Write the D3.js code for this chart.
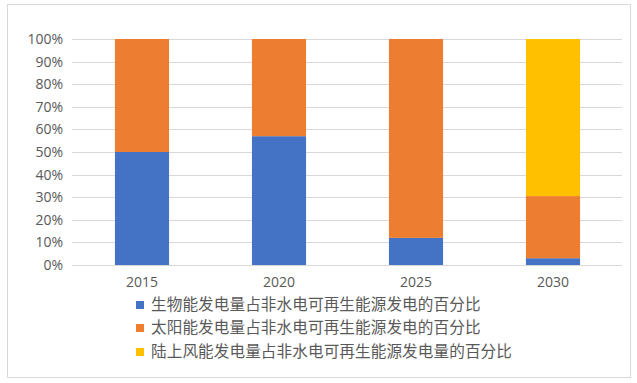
<!DOCTYPE html>
<html><head><meta charset="utf-8">
<script src="https://cdn.jsdelivr.net/npm/d3@7"></script>
<style>
body{margin:0;background:#fff;}
text{font-family:"Noto Sans CJK SC","Open Sans",sans-serif;fill:#595959;}
</style></head>
<body><svg id="c" width="637" height="383"></svg>
<script>
const categories = ["2015","2020","2025","2030"];
const biomass = [50, 57, 12, 3];
const solar = [50, 43, 88, 27.5];
const wind = [0, 0, 0, 69.5];
const seriesNames = ["生物能发电量占非水电可再生能源发电的百分比","太阳能发电量占非水电可再生能源发电的百分比","陆上风能发电量占非水电可再生能源发电量的百分比"];
const colors = ["#4472C4","#ED7D31","#FFC000"];
const yTicks = [0,10,20,30,40,50,60,70,80,90,100];

const svg = d3.select("#c");
svg.append("rect").attr("x",7.5).attr("y",4.5).attr("width",623).attr("height",373)
  .attr("fill","#fff").attr("stroke","#d9d9d9");

const x = d3.scaleBand().domain(categories).range([73.5,621.5]).paddingInner(0.605).paddingOuter(0.3025);
const y = d3.scaleLinear().domain([0,100]).range([265,39]);

const g = svg.append("g");
g.selectAll("line.grid").data(yTicks).join("line")
  .attr("x1",72).attr("x2",622).attr("y1",d=>Math.round(y(d))+0.5).attr("y2",d=>Math.round(y(d))+0.5)
  .attr("stroke","#d9d9d9").attr("stroke-width",1);

const yAxis = d3.axisLeft(y).tickValues(yTicks).tickFormat(d=>d+"%").tickSize(0).tickPadding(0);
const ya = svg.append("g").attr("transform","translate(63,0)").call(yAxis);
ya.select(".domain").remove();
ya.selectAll("text").attr("font-size",14).style("font-family","'Open Sans',sans-serif").attr("fill","#595959");

const data = categories.map((c,i)=>({cat:c, b:biomass[i], s:solar[i], w:wind[i]}));
const stack = d3.stack().keys(["b","s","w"])(data);
stack.forEach((layer,k)=>{
  g.selectAll("rect.s"+k).data(layer).join("rect")
    .attr("x",d=>x(d.data.cat)).attr("width",x.bandwidth())
    .attr("y",d=>y(d[1])).attr("height",d=>y(d[0])-y(d[1]))
    .attr("fill",colors[k]);
});

const xAxis = d3.axisBottom(x).tickSize(0).tickPadding(0);
const xa = svg.append("g").attr("transform","translate(0,277)").call(xAxis);
xa.select(".domain").remove();
xa.selectAll("text").attr("font-size",14).attr("dy","0.71em").style("font-family","'Open Sans',sans-serif").attr("fill","#595959");

const leg = svg.append("g");
const rowsY = [305, 328, 352];
seriesNames.forEach((n,i)=>{
  leg.append("rect").attr("x",136).attr("y",rowsY[i]-4).attr("width",8).attr("height",8).attr("fill",colors[i]);
  leg.append("text").attr("x",151).attr("y",rowsY[i]).attr("dy","0.35em").attr("font-size",15.6)
    .style("letter-spacing","0.1px").text(n);
});
</script></body></html>
